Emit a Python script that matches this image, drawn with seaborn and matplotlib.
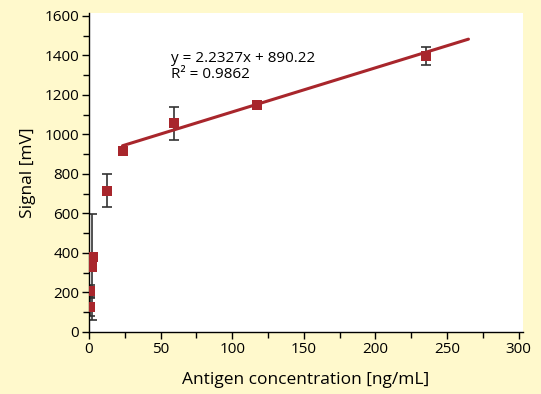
import numpy as np
import pandas as pd
import matplotlib
matplotlib.use('Agg')
import matplotlib.pyplot as plt
from matplotlib.ticker import MultipleLocator
import seaborn as sns

# data
conc   = [0.5, 1.0, 2.0, 3.0, 12.5, 23.5, 59.5, 117.5, 235.5]
signal = [127, 207, 330, 380, 714, 916, 1056, 1150, 1398]
err    = [45, 30, 268, 20, 83, 15, 83, 8, 45]
slope, intercept = 2.2327, 890.22
fit_x  = [23.4, 265.0]

bg = '#fff9cc'
red = '#a8262c'

sns.set_theme(style='ticks')
plt.rcParams['font.family'] = ['Open Sans', 'DejaVu Sans']
plt.rcParams.update({'text.color': 'black', 'axes.labelcolor': 'black',
                     'xtick.color': 'black', 'ytick.color': 'black'})

fig = plt.figure(figsize=(5.41, 3.94), dpi=100, facecolor=bg)
ax = fig.add_axes([0.1645, 0.1574, 0.802, 0.81])
ax.set_facecolor('white')

df = pd.DataFrame({'conc': conc, 'signal': signal, 'err': err})
fit = pd.DataFrame({'x': fit_x, 'y': [slope*v + intercept for v in fit_x]})

ax.errorbar(df.conc, df.signal, yerr=df.err, fmt='none', ecolor='#333333',
            elinewidth=1.2, capsize=3.5, capthick=1.2, zorder=2)
sns.lineplot(data=fit, x='x', y='y', color=red, lw=2.2, ax=ax, zorder=3)
sns.scatterplot(data=df, x='conc', y='signal', marker='s', s=42, color=red,
                edgecolor=red, linewidth=0, ax=ax, zorder=4)

ax.set_xlim(0, 303)
ax.set_ylim(0, 1615)
ax.xaxis.set_major_locator(MultipleLocator(50))
ax.xaxis.set_minor_locator(MultipleLocator(25))
ax.yaxis.set_major_locator(MultipleLocator(200))
ax.yaxis.set_minor_locator(MultipleLocator(100))
ax.tick_params(which='major', direction='out', length=5, width=1, colors='black',
               labelsize=11, pad=2)
ax.tick_params(which='minor', direction='out', length=4, width=1, colors='black')
for s in ['top', 'right']:
    ax.spines[s].set_visible(False)
for s in ['left', 'bottom']:
    ax.spines[s].set_color('black')
    ax.spines[s].set_linewidth(1)

ax.set_xlabel('Antigen concentration [ng/mL]', fontsize=12.5, labelpad=11)
ax.set_ylabel('Signal [mV]', fontsize=12.5, labelpad=6)

ax.text(57, 1420, f'y = {slope}x + {intercept}\nR² = 0.9862', fontsize=11,
        linespacing=1.05, va='top', ha='left')

fig.savefig('out.png', dpi=100, facecolor=bg)
